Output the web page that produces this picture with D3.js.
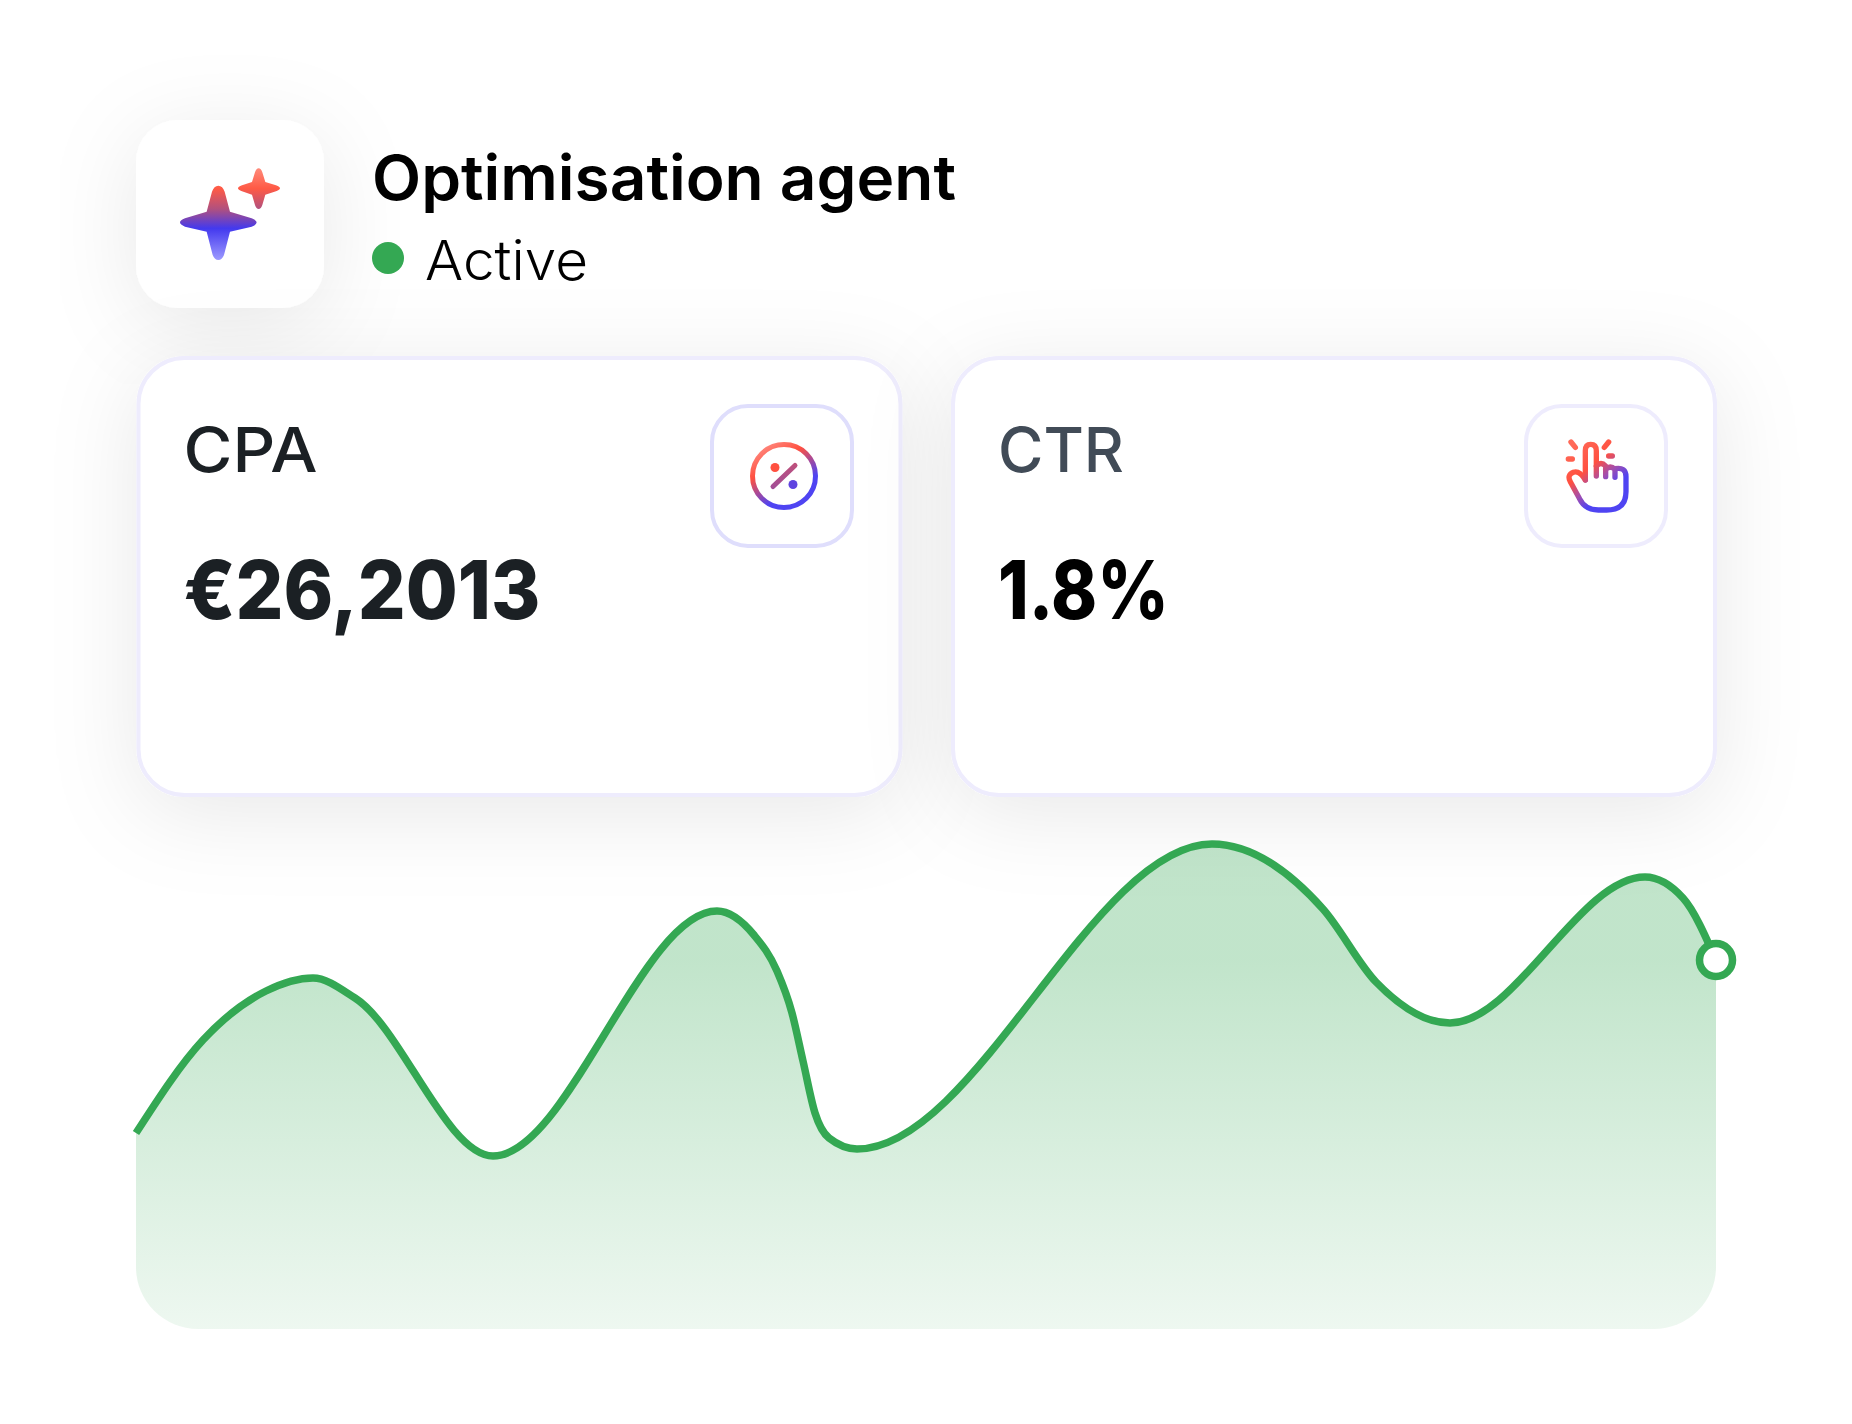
<!DOCTYPE html>
<html>
<head>
<meta charset="utf-8">
<title>Optimisation agent</title>
<script src="https://cdn.jsdelivr.net/npm/d3@7"></script>
<style>
  html, body { margin: 0; padding: 0; background: #fff; }
  svg { display: block; }
</style>
</head>
<body>
<svg id="viz" width="1852" height="1424"></svg>
<script>
// Header and card content
const agentName = "Optimisation agent";
const agentStatus = "Active";
const cardLabels = ["CPA", "CTR"];
const cardValues = ["€26,2013", "1.8%"];

// Curve: horizontal position and height above the base
const trendX = [0, 67, 130, 177, 219, 357, 581, 618, 641, 656, 667, 679, 693, 721, 1076, 1187, 1240, 1314, 1509, 1547, 1580];
const trendY = [196, 289, 338, 351, 331, 173, 418, 394, 358, 316, 268, 216, 191, 180, 485, 420, 347, 306, 452, 431, 369];

const svg = d3.select("#viz");
const defs = svg.append("defs");

// Shared soft shadow for the floating boxes
const shadow = defs.append("filter").attr("id", "soft")
  .attr("x", "-40%").attr("y", "-40%").attr("width", "180%").attr("height", "180%");
shadow.append("feDropShadow")
  .attr("dx", 0).attr("dy", 16).attr("stdDeviation", 44)
  .attr("flood-color", "#000").attr("flood-opacity", 0.09);

function addGradient(id, from, to, stops) {
  let g = defs.append("linearGradient").attr("id", id)
    .attr("gradientUnits", "userSpaceOnUse")
    .attr("x1", from[0]).attr("y1", from[1]).attr("x2", to[0]).attr("y2", to[1]);
  stops.forEach(s => {
    g.append("stop").attr("offset", s[0]).attr("stop-color", s[1]).attr("stop-opacity", s[2] === undefined ? 1 : s[2]);
  });
}

addGradient("sparkleFill", [0, 55], [0, 330], [[0, "#ff8a7a"], [0.22, "#ff5a45"], [0.445, "#b0507f"], [0.655, "#4339ee"], [1, "#9d9aff"]]);
addGradient("percentFill", [763, 445], [803, 508], [[0, "#ff8a80"], [0.3, "#ff5040"], [0.72, "#4f44f2"], [1, "#4f44f2"]]);
addGradient("percentLine", [0, 462], [0, 490], [[0, "#c0507a"], [1, "#a04e98"]]);
addGradient("handFill", [215, 195], [370, 385], [[0, "#ff6a58"], [0.35, "#ff5040"], [0.55, "#a04eb0"], [0.72, "#4f44f2"], [1, "#4f44f2"]]);
addGradient("areaFill", [0, 960], [0, 1329], [[0, "#34a853", 0.305], [1, "#34a853", 0.085]]);

// Logo tile
svg.append("rect")
  .attr("x", 136).attr("y", 120).attr("width", 188).attr("height", 188).attr("rx", 42)
  .attr("fill", "#fff").attr("filter", "url(#soft)");

const big = "M205 107 Q218 107 224 125 L240 185 L305 205 Q320 211 320 217 Q320 224 305 230 L240 245 L222 315 Q216 330 205 330 "
  + "Q194 330 188 315 L170 245 L105 230 Q90 224 90 217 Q90 211 105 205 L170 185 L186 125 Q192 107 205 107Z";
const small = "M326 55 Q333 55 337 67 L346 96 L378 106 Q390 110 390 115 Q390 120 378 124 L346 134 L337 165 Q333 177 326 177 "
  + "Q319 177 315 165 L306 134 L276 124 Q264 120 264 115 Q264 110 276 106 L306 96 L315 67 Q319 55 326 55Z";
const sparkle = svg.append("g").attr("transform", "translate(150,150) scale(0.3333)");
[big, small].forEach(d => {
  sparkle.append("path").attr("d", d).attr("fill", "url(#sparkleFill)");
});

// Title and status
const titleFont = "Inter, 'Noto Sans', sans-serif";
svg.append("text").text(agentName)
  .attr("x", 372).attr("y", 200)
  .attr("textLength", 584).attr("lengthAdjust", "spacingAndGlyphs")
  .style("font-family", titleFont).style("font-size", "62px").style("font-weight", 600)
  .style("fill", "#000");

svg.append("circle").attr("cx", 388).attr("cy", 258).attr("r", 16).attr("fill", "#34a853");

svg.append("text").text(agentStatus)
  .attr("x", 425).attr("y", 280)
  .attr("textLength", 163).attr("lengthAdjust", "spacingAndGlyphs")
  .style("font-family", titleFont).style("font-size", "55px").style("font-weight", 300)
  .style("fill", "#000");

// Metric cards
const cardX = [138.5, 953];
const iconX = [712, 1526];
const labelColors = ["#1b2024", "#414b57"];
const valueColors = ["#1b2024", "#000"];
const iconStroke = ["#dfdefc", "#eeecfd"];
const labelWidths = [134, 126];
const valueWidths = [357, 171];

cardLabels.forEach((label, i) => {
  let g = svg.append("g");
  g.append("rect")
    .attr("x", cardX[i]).attr("y", 358).attr("width", 762).attr("height", 437).attr("rx", 46)
    .attr("fill", "#fff").attr("stroke", "#eeecfd").attr("stroke-width", 4)
    .attr("filter", "url(#soft)");
  g.append("text").text(label)
    .attr("x", cardX[i] + 45).attr("y", 472)
    .attr("textLength", labelWidths[i]).attr("lengthAdjust", "spacingAndGlyphs")
    .style("font-family", titleFont).style("font-size", "62px").style("font-weight", 450)
    .style("fill", labelColors[i]);
  g.append("text").text(cardValues[i])
    .attr("x", cardX[i] + 45).attr("y", 619)
    .attr("textLength", valueWidths[i]).attr("lengthAdjust", "spacingAndGlyphs")
    .style("font-family", titleFont).style("font-size", "81px").style("font-weight", 800)
    .style("fill", valueColors[i]);
  g.append("rect")
    .attr("x", iconX[i]).attr("y", 406).attr("width", 140).attr("height", 140).attr("rx", 36)
    .attr("fill", "#fff").attr("stroke", iconStroke[i]).attr("stroke-width", 4);
});

// Percent icon
const pct = svg.append("g");
pct.append("circle").attr("cx", 784).attr("cy", 476).attr("r", 31.5)
  .attr("fill", "none").attr("stroke", "url(#percentFill)").attr("stroke-width", 5);
pct.append("line").attr("x1", 795).attr("y1", 465.5).attr("x2", 773).attr("y2", 486.5)
  .attr("stroke", "url(#percentLine)").attr("stroke-width", 5).attr("stroke-linecap", "round");
pct.append("circle").attr("cx", 775).attr("cy", 467.5).attr("r", 4.5).attr("fill", "#ff5040");
pct.append("circle").attr("cx", 793).attr("cy", 484.5).attr("r", 4.5).attr("fill", "#5f44e0");

// Hand icon, drawn in a 3x grid so its outline stays readable
const hand = svg.append("g")
  .attr("transform", "translate(1500,380) scale(0.3333)")
  .attr("fill", "none")
  .attr("stroke-width", 16)
  .attr("stroke-linecap", "round")
  .attr("stroke-linejoin", "round");
const handPaths = [
  "M256 300 L256 212 Q256 193 272 193 Q289 193 289 212 L289 288",
  "M289 258 Q303 243 317 258 L317 290",
  "M317 268 Q331 255 345 268 L345 292",
  "M345 266 Q378 260 378 290 L378 335 Q378 390 320 390 L295 390 Q255 390 238 355 L211 305 Q200 285 220 277 Q238 270 256 300",
  "M205 237 L217 237",
  "M213 186 L226 202",
  "M326 186 L313 202",
  "M326 228 L337 228"
];
handPaths.forEach(d => {
  hand.append("path").attr("d", d).attr("stroke", "url(#handFill)");
});

// Trend area
const xScale = d3.scaleLinear().domain([0, 1580]).range([136, 1716]);
const yScale = d3.scaleLinear().domain([0, 520]).range([1329, 809]);
const trend = trendX.map((x, i) => ({ x: x, y: trendY[i] }));

defs.append("clipPath").attr("id", "areaClip")
  .append("rect")
  .attr("x", xScale(0)).attr("y", yScale(520))
  .attr("width", xScale(1580) - xScale(0)).attr("height", yScale(0) - yScale(520))
  .attr("rx", 62);

const curve = d3.curveMonotoneX;

svg.append("path")
  .datum(trend)
  .attr("clip-path", "url(#areaClip)")
  .attr("fill", "url(#areaFill)")
  .attr("d", d3.area().curve(curve)
    .x(d => xScale(d.x)).y0(yScale(0)).y1(d => yScale(d.y)));

svg.append("path")
  .datum(trend)
  .attr("fill", "none")
  .attr("stroke", "#34a853")
  .attr("stroke-width", 7.5)
  .attr("d", d3.line().curve(curve).x(d => xScale(d.x)).y(d => yScale(d.y)));

// End marker
const last = trend[trend.length - 1];
svg.append("circle")
  .attr("cx", xScale(last.x)).attr("cy", yScale(last.y)).attr("r", 16.5)
  .attr("fill", "#fff").attr("stroke", "#34a853").attr("stroke-width", 7.5);
</script>
</body>
</html>
